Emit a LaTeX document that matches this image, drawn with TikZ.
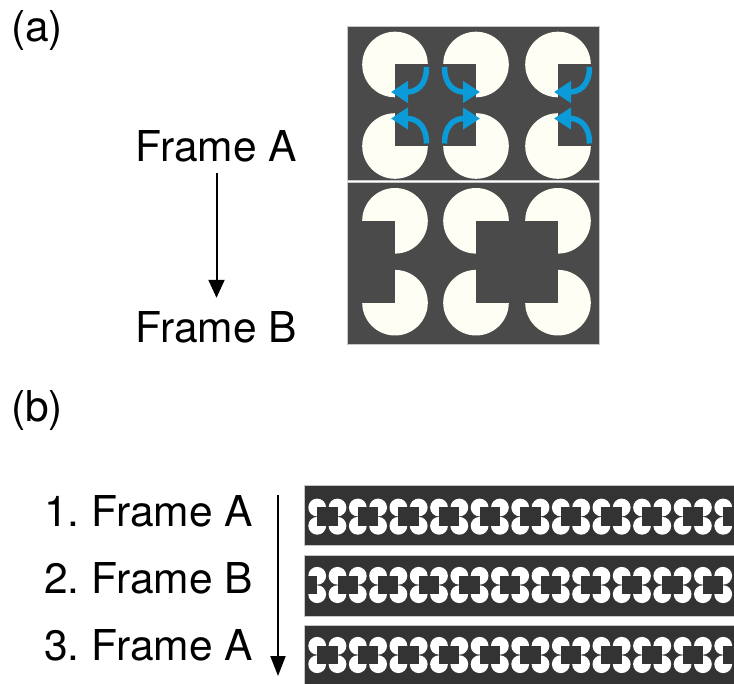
\documentclass[tikz,border=0pt]{standalone}
\usepackage{fontspec}
\setmainfont{TeX Gyre Heros}
\usetikzlibrary{arrows.meta}
\definecolor{panelgray}{HTML}{4A4A4A}
\definecolor{stripgray}{HTML}{333333}
\definecolor{disc}{HTML}{FEFEF4}
\definecolor{arrowblue}{HTML}{0A9BD8}
\tikzset{
  lbl/.style={inner sep=0pt, font=\fontsize{42.5}{50}\selectfont\frenchspacing},
  panel/.style={fill=panelgray, draw=black!22, line width=0.8pt},
  stripedge/.style={draw=black!22, line width=0.8pt},
  bigdisc/.style={fill=disc},
  smalldisc/.style={fill=white},
  flowarrow/.style={line width=2pt, -{Triangle[length=18pt,width=16pt]}},
  rotarrow/.style={draw=arrowblue, line width=5.5pt, -{Triangle[length=17pt,width=21pt]}},
}
\begin{document}
\begin{tikzpicture}[x=1pt,y=-1pt]
\useasboundingbox (0,0) rectangle (734,684);

% ---------- (a) ----------
\node[lbl, anchor=base west] (labela) at (11,41.7) {(a)};
\node[lbl, anchor=base] (fa) at (216.5,162) {Frame A};
\node[lbl, anchor=base] (fb) at (216.5,343) {Frame B};
\draw[flowarrow, shorten <=10pt, shorten >=14pt] (fa.south) -- (fb.north);

% Frame A panel
\path[panel] (347,26) rectangle (599,180.5);
\foreach \cx in {395,476,558} \foreach \cy in {64.5,146}
  \fill[bigdisc] (\cx,\cy) circle (32.8pt);
\fill[panelgray] (395,64.5) rectangle (476,146);
\fill[panelgray] (558,64.5) rectangle (592.5,146);
\foreach \cx/\sx in {395/1,476/-1,558/1}
  \foreach \cy/\sy in {64.5/1,146/-1}
    \draw[rotarrow] ({\cx+\sx*31.5},{\cy+\sy*2.5})
      .. controls ({\cx+\sx*31.5},{\cy+\sy*21.5}) and ({\cx+\sx*21},{\cy+\sy*27.5})
      .. ({\cx-\sx*4},{\cy+\sy*27.5});

% Frame B panel
\path[panel] (347,182) rectangle (599,344);
\foreach \cx in {395,476,558} \foreach \cy in {220.8,302.7}
  \fill[bigdisc] (\cx,\cy) circle (32.8pt);
\fill[panelgray] (476,220.8) rectangle (558,302.7);
\fill[panelgray] (361,220.8) rectangle (395,302.7);

% ---------- (b) ----------
\node[lbl, anchor=base west] (labelb) at (11,421.7) {(b)};
\node[lbl, anchor=base east] (l1) at (253,526.7) {1. Frame A};
\node[lbl, anchor=base east] (l2) at (253,593.3) {2. Frame B};
\node[lbl, anchor=base east] (l3) at (253,660) {3. Frame A};
\coordinate (bs) at (278,495);
\coordinate (be) at (278,676);
\draw[line width=2pt, -{Triangle[length=20pt,width=15pt]}] (bs) -- (be);

% strip 1 (Frame A)
\begin{scope}
\clip (304,485.5) rectangle (734,545.5);
\fill[stripgray] (304,485.5) rectangle (734,545.5);
\foreach \k in {0,...,21} {
  \fill[smalldisc] ({317.2+20.3*\k},507.5) circle (8.9pt);
  \fill[smalldisc] ({317.2+20.3*\k},525.8) circle (8.9pt);
}
\foreach \k in {0,2,...,20}
  \fill[stripgray] ({317.2+20.3*\k},507.5) rectangle ({317.2+20.3*(\k+1)},525.8);
\end{scope}
\draw[stripedge] (740,485.5) -- (304,485.5) -- (304,545.5) -- (740,545.5);

% strip 2 (Frame B)
\begin{scope}
\clip (304,555.5) rectangle (734,616.5);
\fill[stripgray] (304,555.5) rectangle (734,616.5);
\foreach \k in {0,...,21} {
  \fill[smalldisc] ({317.2+20.3*\k},575.8) circle (8.9pt);
  \fill[smalldisc] ({317.2+20.3*\k},594.2) circle (8.9pt);
}
\foreach \k in {1,3,...,21}
  \fill[stripgray] ({317.2+20.3*\k},575.8) rectangle ({317.2+20.3*(\k+1)},594.2);
\fill[stripgray] (306.5,575.8) rectangle (317.2,594.2);
\end{scope}
\draw[stripedge] (740,555.5) -- (304,555.5) -- (304,616.5) -- (740,616.5);

% strip 3 (Frame A)
\begin{scope}
\clip (304,625.5) rectangle (734,690);
\fill[stripgray] (304,625.5) rectangle (734,690);
\foreach \k in {0,...,21} {
  \fill[smalldisc] ({317.2+20.3*\k},645.8) circle (8.9pt);
  \fill[smalldisc] ({317.2+20.3*\k},664.2) circle (8.9pt);
}
\foreach \k in {0,2,...,20}
  \fill[stripgray] ({317.2+20.3*\k},645.8) rectangle ({317.2+20.3*(\k+1)},664.2);
\end{scope}
\draw[stripedge] (740,625.5) -- (304,625.5) -- (304,690);
\end{tikzpicture}
\end{document}
